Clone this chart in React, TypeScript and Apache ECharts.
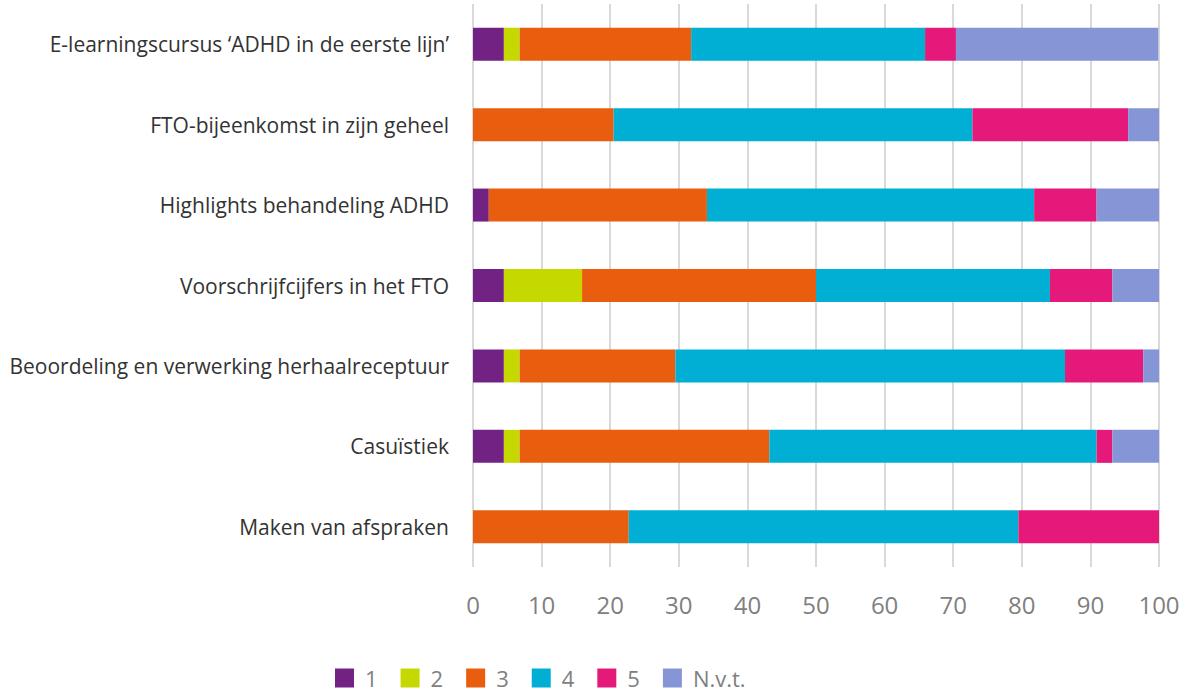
import React, { useEffect, useRef } from "react";
import * as echarts from "echarts";

const categories = [
  "E-learningscursus ‘ADHD in de eerste lijn’",
  "FTO-bijeenkomst in zijn geheel",
  "Highlights behandeling ADHD",
  "Voorschrijfcijfers in het FTO",
  "Beoordeling en verwerking herhaalreceptuur",
  "Casuïstiek",
  "Maken van afspraken",
];

const seriesNames = ["1", "2", "3", "4", "5", "N.v.t."];
const colors = ["#722283", "#c5d800", "#e95d0f", "#00afd3", "#e5197a", "#8595d6"];

const s1 = [4.5, 0, 2.3, 4.5, 4.5, 4.5, 0];
const s2 = [2.3, 0, 0, 11.4, 2.3, 2.3, 0];
const s3 = [25.0, 20.5, 31.8, 34.1, 22.7, 36.4, 22.7];
const s4 = [34.1, 52.3, 47.7, 34.1, 56.8, 47.7, 56.8];
const s5 = [4.5, 22.7, 9.1, 9.1, 11.4, 2.3, 20.5];
const sNvt = [29.5, 4.5, 9.1, 6.8, 2.3, 6.8, 0];

const seriesData = [s1, s2, s3, s4, s5, sNvt];
const xTicks = [0, 10, 20, 30, 40, 50, 60, 70, 80, 90, 100];

const FONT = "'Open Sans', 'Noto Sans', sans-serif";

export default function App() {
  const ref = useRef<HTMLDivElement>(null);
  useEffect(() => {
    if (!ref.current) return;
    const chart = echarts.init(ref.current, undefined, { renderer: "svg" });
    chart.setOption({
      animation: false,
      textStyle: { fontFamily: FONT },
      grid: { left: 473, right: 36, top: 4, bottom: 127, containLabel: false },
      legend: {
        top: 667,
        left: 335,
        padding: 0,
        itemWidth: 19,
        itemHeight: 19,
        itemGap: 23,
        icon: "rect",
        textStyle: {
          color: "#808080",
          fontSize: 22,
          fontFamily: FONT,
          padding: [0, 0, 0, 6],
        },
        data: seriesNames,
      },
      xAxis: {
        type: "value",
        min: xTicks[0],
        max: xTicks[xTicks.length - 1],
        interval: 10,
        axisLine: { show: false },
        axisTick: { show: false },
        splitLine: { show: true, lineStyle: { color: "#d9d9d9", width: 2 } },
        axisLabel: { color: "#808080", fontSize: 24, margin: 25, fontFamily: FONT },
      },
      yAxis: {
        type: "category",
        data: categories,
        inverse: true,
        axisLine: { show: false },
        axisTick: { show: false },
        axisLabel: { color: "#333333", fontSize: 21, margin: 24, fontFamily: FONT },
      },
      series: seriesNames.map((name, i) => ({
        name,
        type: "bar",
        stack: "total",
        barWidth: 33,
        itemStyle: { color: colors[i] },
        data: seriesData[i],
      })),
    });
    return () => chart.dispose();
  }, []);
  return <div ref={ref} style={{ width: 1195, height: 694, position: "absolute", left: 0, top: 0 }} />;
}
